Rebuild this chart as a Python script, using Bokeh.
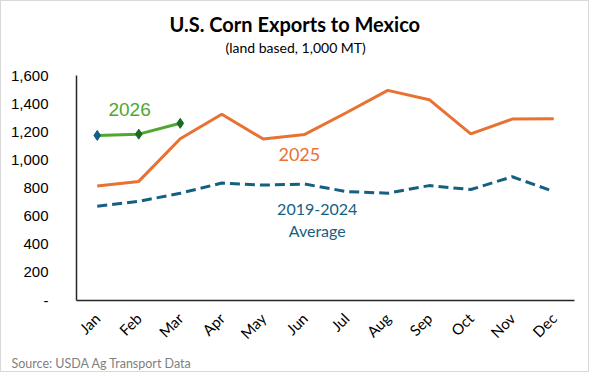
import math
from bokeh.plotting import figure
from bokeh.models import Range1d, FixedTicker, NumeralTickFormatter, Title
from bokeh.core.properties import value
from bokeh.embed import file_html
from bokeh.resources import INLINE

months = ["Jan", "Feb", "Mar", "Apr", "May", "Jun", "Jul", "Aug", "Sep", "Oct", "Nov", "Dec"]
y2025 = [815, 847, 1150, 1325, 1148, 1181, 1335, 1494, 1428, 1185, 1290, 1293]
y2026 = [1174, 1183, 1260]
avg_2019_2024 = [670, 705, 763, 835, 821, 828, 775, 763, 817, 789, 880, 775]
y_ticks = [0, 200, 400, 600, 800, 1000, 1200, 1400, 1600]

xs = list(range(len(months)))

p = figure(width=589, height=372, output_backend="svg", toolbar_location=None,
           x_range=Range1d(-0.5, 11.5), y_range=Range1d(0, 1600),
           min_border_left=75, min_border_right=16, min_border_top=74, min_border_bottom=73,
           title=None)
p.outline_line_color = None
p.xgrid.grid_line_color = None
p.ygrid.grid_line_color = None
p.background_fill_color = "white"
p.border_fill_color = "white"
p.styles = {"border": "1px solid #d9d9d9", "box-sizing": "border-box"}

# axes
p.yaxis.ticker = FixedTicker(ticks=y_ticks)
p.yaxis.formatter = NumeralTickFormatter(format="0,0")
p.yaxis.major_label_overrides = {0: "-"}
p.yaxis.major_tick_line_color = None
p.yaxis.minor_tick_line_color = None
p.yaxis.axis_line_color = "#262626"
p.yaxis.axis_line_width = 1.5
p.yaxis.major_label_standoff = 22
p.yaxis.major_label_text_font = "Liberation Sans"
p.yaxis.major_label_text_font_size = "15px"
p.yaxis.major_label_text_color = "#000000"

p.xaxis.ticker = FixedTicker(ticks=xs)
p.xaxis.major_label_overrides = {i: m for i, m in enumerate(months)}
p.xaxis.major_label_orientation = math.pi / 4
p.xaxis.major_tick_line_color = None
p.xaxis.minor_tick_line_color = None
p.xaxis.axis_line_color = "#262626"
p.xaxis.axis_line_width = 1.5
p.xaxis.major_label_standoff = 9
p.xaxis.major_label_text_font = "Lato"
p.xaxis.major_label_text_font_size = "15px"
p.xaxis.major_label_text_color = "#000000"

# series
p.line(xs, avg_2019_2024, line_color="#156082", line_width=3, line_dash="10 5")
p.line(xs, y2025, line_color="#E97132", line_width=3)
p.line(xs[:3], y2026, line_color="#4EA72E", line_width=3)
p.scatter(xs[1:3], y2026[1:3], marker="diamond", size=10, fill_color="#196B24", line_color="#196B24")
p.scatter(xs[:1], y2026[:1], marker="diamond", size=10, fill_color="#156082", line_color="#156082")

# series labels
p.text(x=[0.78], y=[1360], text=["2026"], text_color="#4EA72E", text_font=value("Liberation Sans"),
       text_font_size="19px", text_align="center", text_baseline="middle")
p.text(x=[4.87], y=[1038], text=["2025"], text_color="#E97132", text_font=value("Lato"),
       text_font_size="18px", text_align="center", text_baseline="middle")
p.text(x=[5.30, 5.30], y=[649, 495], text=["2019-2024", "Average"], text_color="#156082",
       text_font=value("Lato"), text_font_size="16px", text_align="center", text_baseline="middle")

# titles (spacer closest to the frame, then subtitle, then main title)
spacer = Title(text=" ", align="left", text_font_size="1px", standoff=16)
sub = Title(text="(land based, 1,000 MT)", align="left", text_font="Lato", text_font_size="14px",
            text_font_style="normal", text_color="#000000", offset=149, standoff=2)
main = Title(text="U.S. Corn Exports to Mexico", align="left", text_font="Lato", text_font_size="20px",
             text_font_style="bold", text_color="#000000", offset=93, standoff=0)
p.add_layout(spacer, "above")
p.add_layout(sub, "above")
p.add_layout(main, "above")

src = Title(text="Source: USDA Ag Transport Data", align="left", text_font="Lato", text_font_size="12.5px",
            text_font_style="normal", text_color="#7f7f7f", offset=-65, standoff=4)
p.add_layout(src, "below")

open("out.html", "w").write(file_html(p, INLINE))
